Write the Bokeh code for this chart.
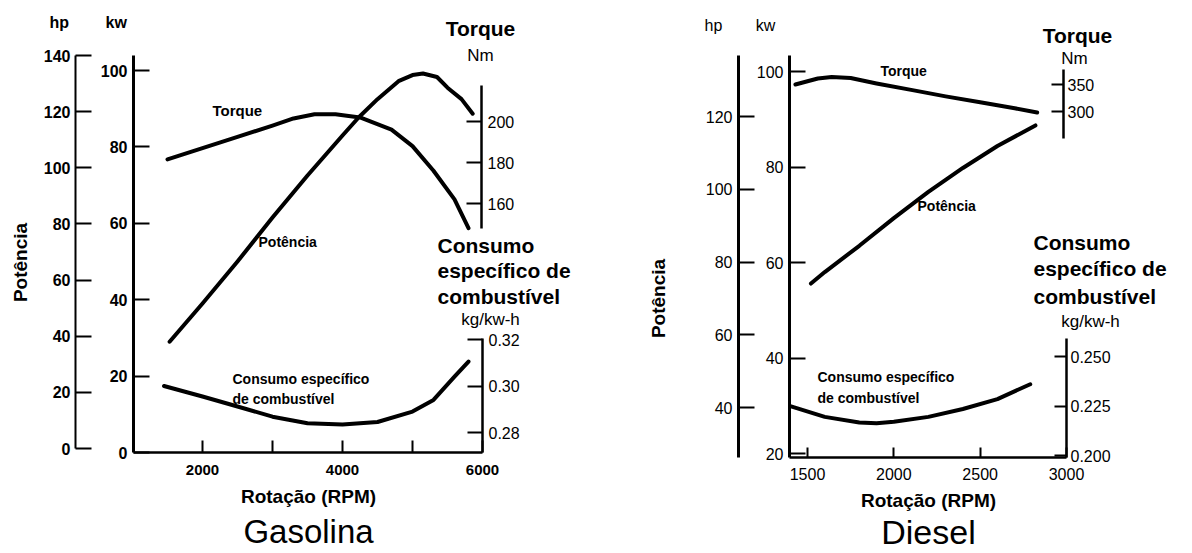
import math
from bokeh.plotting import figure
from bokeh.models import Range1d, LinearAxis, FixedTicker, Label, NumeralTickFormatter
from bokeh.layouts import row
from bokeh.embed import file_html
from bokeh.resources import INLINE

# ---------------- data: Gasolina ----------------
gas_torque_rpm = [1500, 2000, 2500, 3000, 3300, 3600, 3900, 4250, 4700, 5000, 5300, 5600, 5800]
gas_torque_nm = [181.5, 187, 192.5, 198, 201.5, 203.5, 203.5, 202, 196, 188, 176, 162, 148]
gas_power_rpm = [1530, 2000, 2500, 3000, 3500, 4000, 4230, 4500, 4800, 5000, 5150, 5350, 5500, 5700, 5860]
gas_power_kw = [29, 39, 50, 61.5, 72.5, 83, 87.7, 92.5, 97.2, 98.8, 99.2, 98.3, 95.5, 92.5, 88.7]
gas_cons_rpm = [1450, 2000, 2500, 3000, 3500, 4000, 4500, 5000, 5300, 5600, 5800]
gas_cons_val = [0.300, 0.2955, 0.2912, 0.2868, 0.2840, 0.2834, 0.2845, 0.2890, 0.2940, 0.3040, 0.3105]
gas_x_ticks = [2000, 4000, 6000]
gas_x_minor = [3000, 5000]
gas_hp_ticks = [0, 20, 40, 60, 80, 100, 120, 140]
gas_kw_ticks = [0, 20, 40, 60, 80, 100]
gas_nm_ticks = [160, 180, 200]
gas_cons_ticks = [0.28, 0.30, 0.32]

# ---------------- data: Diesel ----------------
die_torque_rpm = [1430, 1500, 1560, 1640, 1750, 1900, 2100, 2300, 2500, 2700, 2830]
die_torque_nm = [350, 356, 361, 364, 362, 352, 340, 328, 317, 306, 298]
die_power_rpm = [1520, 1600, 1800, 2000, 2200, 2400, 2600, 2820]
die_power_kw = [55.6, 58, 63.5, 69.3, 74.8, 79.8, 84.4, 88.7]
die_cons_rpm = [1400, 1600, 1800, 1900, 2000, 2200, 2400, 2600, 2790]
die_cons_val = [0.2249, 0.2195, 0.2167, 0.2163, 0.2170, 0.2195, 0.2235, 0.2285, 0.2360]
die_x_ticks = [1500, 2000, 2500, 3000]
die_hp_ticks = [40, 60, 80, 100, 120]
die_kw_ticks = [20, 40, 60, 80, 100]
die_nm_ticks = [300, 350]
die_cons_ticks = [0.200, 0.225, 0.250]

TOP = 0
H = 552
FONT = "Liberation Sans"


def lin(p1, v1, p2, v2):
    return lambda px: v1 + (px - p1) * (v2 - v1) / (p2 - p1)


def make_fig(W, L, fx, fy):
    p = figure(width=W, height=H,
               x_range=Range1d(fx(L), fx(L + W)),
               y_range=Range1d(fy(TOP + H), fy(TOP)),
               x_axis_location=None, y_axis_location=None,
               toolbar_location=None, output_backend="svg",
               min_border=0, min_border_left=0, min_border_right=0,
               min_border_top=0, min_border_bottom=0,
               outline_line_color=None, background_fill_color="white",
               border_fill_color="white")
    p.grid.visible = False
    return p


def add_axis(p, side, loc, bounds, ticks, tick_in, standoff, size, style,
             range_name="default", minor=None, fmt=None, lw=2.5, horizontal=False):
    kw = dict(fixed_location=loc, bounds=bounds,
              ticker=FixedTicker(ticks=ticks, minor_ticks=minor or []),
              major_tick_in=tick_in, major_tick_out=0,
              minor_tick_in=tick_in if minor else 0, minor_tick_out=0,
              major_label_standoff=standoff,
              axis_line_width=lw, axis_line_color="black",
              major_tick_line_width=2, major_tick_line_color="black",
              minor_tick_line_width=2, minor_tick_line_color="black",
              major_label_text_font=FONT,
              major_label_text_font_size=f"{size}px",
              major_label_text_font_style=style,
              major_label_text_color="black")
    if horizontal:
        kw["x_range_name"] = range_name
    else:
        kw["y_range_name"] = range_name
    if fmt is not None:
        kw["formatter"] = NumeralTickFormatter(format=fmt)
    ax = LinearAxis(**kw)
    p.add_layout(ax, side)
    return ax


def txt(p, L, px, py, s, size, style="bold", align="left", angle=0.0):
    p.add_layout(Label(x=px - L, y=(TOP + H) - py, x_units="screen", y_units="screen",
                       text=s, text_font=FONT, text_font_size=f"{size}px",
                       text_font_style=style, text_align=align,
                       text_baseline="middle", angle=angle, text_color="black"))


# =============== Gasolina panel ===============
L1, W1 = 0, 600
gx = lin(202, 2000, 482, 6000)
g_kw = lin(452, 0, 70, 100)
g_hp = lin(448, 0, 55, 140)
g_nm = lin(121, 200, 203, 160)
g_cs = lin(339, 0.32, 432, 0.28)

p1 = make_fig(W1, L1, gx, g_kw)
p1.extra_y_ranges = {
    "hp": Range1d(g_hp(TOP + H), g_hp(TOP)),
    "nm": Range1d(g_nm(TOP + H), g_nm(TOP)),
    "cs": Range1d(g_cs(TOP + H), g_cs(TOP)),
}

add_axis(p1, "left", gx(75), (0, 140), gas_hp_ticks, 16, 5, 16, "bold", "hp", lw=2)
add_axis(p1, "left", gx(133), (0, g_kw(55)), gas_kw_ticks, 16, 6, 16, "bold", "default", lw=3)
add_axis(p1, "right", gx(481), (g_nm(228), g_nm(85)), gas_nm_ticks, 15, 6, 16, "normal", "nm", lw=2.5)
add_axis(p1, "right", gx(482), (g_cs(452), g_cs(338)), gas_cons_ticks, 15, 6, 16, "normal", "cs",
         fmt="0.00", lw=2.5)
add_axis(p1, "below", 0, (gx(133), 6000), gas_x_ticks, 12, 12, 15, "bold", "default",
         minor=gas_x_minor, lw=2.5, horizontal=True)

p1.line(gas_torque_rpm, gas_torque_nm, y_range_name="nm", line_width=4, line_color="black",
        line_cap="round", line_join="round")
p1.line(gas_power_rpm, gas_power_kw, line_width=4, line_color="black",
        line_cap="round", line_join="round")
p1.line(gas_cons_rpm, gas_cons_val, y_range_name="cs", line_width=4, line_color="black",
        line_cap="round", line_join="round")

txt(p1, L1, 49, 22, "hp", 16)
txt(p1, L1, 105, 22, "kw", 16)
txt(p1, L1, 20, 262, "Potência", 19, angle=math.pi / 2, align="center")
txt(p1, L1, 212, 110, "Torque", 15)
txt(p1, L1, 258, 241, "Potência", 14)
txt(p1, L1, 232, 378, "Consumo específico", 14)
txt(p1, L1, 232, 398, "de combustível", 14)
txt(p1, L1, 480, 28, "Torque", 21, align="center")
txt(p1, L1, 480, 55, "Nm", 17, style="normal", align="center")
txt(p1, L1, 437, 245, "Consumo", 21)
txt(p1, L1, 437, 270, "específico de", 21)
txt(p1, L1, 437, 296, "combustível", 21)
txt(p1, L1, 490, 319, "kg/kw-h", 17, style="normal", align="center")
txt(p1, L1, 308, 496, "Rotação (RPM)", 19, align="center")
txt(p1, L1, 308, 531, "Gasolina", 33, style="normal", align="center")

# =============== Diesel panel ===============
L2, W2 = 600, 590
dx = lin(807, 1500, 1066, 3000)
d_kw = lin(453, 20, 71, 100)
d_hp = lin(407, 40, 116, 120)
d_nm = lin(111, 300, 84, 350)
d_cs = lin(455, 0.200, 356, 0.250)

p2 = make_fig(W2, L2, dx, d_kw)
p2.extra_y_ranges = {
    "hp": Range1d(d_hp(TOP + H), d_hp(TOP)),
    "nm": Range1d(d_nm(TOP + H), d_nm(TOP)),
    "cs": Range1d(d_cs(TOP + H), d_cs(TOP)),
}

add_axis(p2, "left", dx(738), (d_hp(457), d_hp(55)), die_hp_ticks, 16, 6, 16, "normal", "hp", lw=3)
add_axis(p2, "left", dx(789), (d_kw(457), d_kw(55)), die_kw_ticks, 16, 6, 16, "normal", "default", lw=3)
add_axis(p2, "right", dx(1063), (d_nm(138), d_nm(69)), die_nm_ticks, 12, 4, 16, "normal", "nm", lw=2.5)
add_axis(p2, "right", dx(1066), (d_cs(457), d_cs(338)), die_cons_ticks, 12, 4, 16, "normal", "cs",
         fmt="0.000", lw=2.5)
add_axis(p2, "below", d_kw(457), (dx(789), 3000), die_x_ticks, 10, 10, 16, "normal", "default",
         lw=2.5, horizontal=True)

p2.line(die_torque_rpm, die_torque_nm, y_range_name="nm", line_width=4, line_color="black",
        line_cap="round", line_join="round")
p2.line(die_power_rpm, die_power_kw, line_width=4, line_color="black",
        line_cap="round", line_join="round")
p2.line(die_cons_rpm, die_cons_val, y_range_name="cs", line_width=4, line_color="black",
        line_cap="round", line_join="round")

txt(p2, L2, 713, 25, "hp", 16, style="normal", align="center")
txt(p2, L2, 765, 25, "kw", 16, style="normal", align="center")
txt(p2, L2, 658, 298, "Potência", 19, angle=math.pi / 2, align="center")
txt(p2, L2, 880, 70, "Torque", 14)
txt(p2, L2, 917, 205, "Potência", 14)
txt(p2, L2, 817, 376, "Consumo específico", 14)
txt(p2, L2, 817, 397, "de combustível", 14)
txt(p2, L2, 1077, 35, "Torque", 21, align="center")
txt(p2, L2, 1074, 58, "Nm", 17, style="normal", align="center")
txt(p2, L2, 1033, 242, "Consumo", 21)
txt(p2, L2, 1033, 268, "específico de", 21)
txt(p2, L2, 1033, 296, "combustível", 21)
txt(p2, L2, 1090, 321, "kg/kw-h", 17, style="normal", align="center")
txt(p2, L2, 928, 500, "Rotação (RPM)", 19, align="center")
txt(p2, L2, 928, 531, "Diesel", 34, style="normal", align="center")

layout = row(p1, p2)
open("out.html", "w").write(file_html(layout, INLINE))
